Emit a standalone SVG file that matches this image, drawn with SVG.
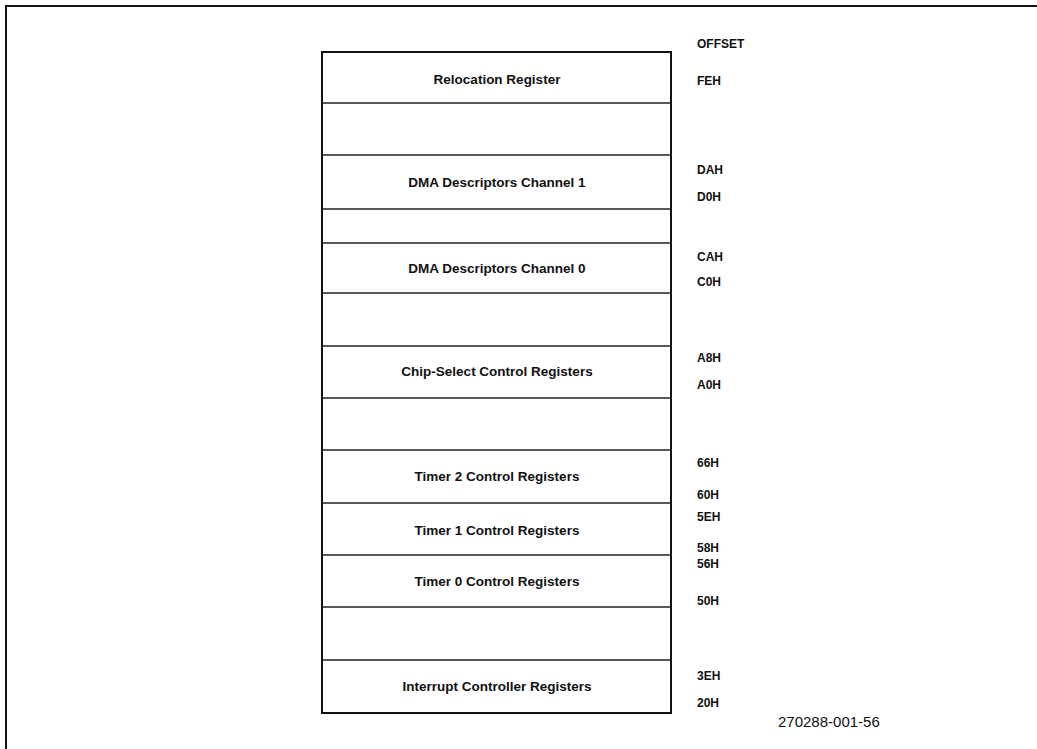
<svg xmlns="http://www.w3.org/2000/svg" width="1037" height="749" viewBox="0 0 1037 749">
<style>
.frame{fill:none;stroke:#111;stroke-width:2}
.box{fill:none;stroke:#111;stroke-width:2}
.div{stroke:#222;stroke-width:1.6}
.lbl{font-family:"Liberation Sans",Arial,sans-serif;font-weight:bold;font-size:13.5px;fill:#111;text-anchor:middle}
.off{font-family:"Liberation Sans",Arial,sans-serif;font-weight:bold;font-size:12px;fill:#111}
.fig{font-family:"Liberation Sans",Arial,sans-serif;font-size:15px;fill:#111}
</style>
<rect width="1037" height="749" fill="#fff"/>
<path class="frame" d="M6,749 V6 H1037"/>
<g id="map">
<rect class="box" x="322" y="52" width="349" height="661"/>
<g id="connectors">
<line class="div" x1="322" y1="103" x2="671" y2="103"/>
<line class="div" x1="322" y1="155" x2="671" y2="155"/>
<line class="div" x1="322" y1="209" x2="671" y2="209"/>
<line class="div" x1="322" y1="243" x2="671" y2="243"/>
<line class="div" x1="322" y1="293" x2="671" y2="293"/>
<line class="div" x1="322" y1="346" x2="671" y2="346"/>
<line class="div" x1="322" y1="398" x2="671" y2="398"/>
<line class="div" x1="322" y1="450" x2="671" y2="450"/>
<line class="div" x1="322" y1="503" x2="671" y2="503"/>
<line class="div" x1="322" y1="555" x2="671" y2="555"/>
<line class="div" x1="322" y1="607" x2="671" y2="607"/>
<line class="div" x1="322" y1="660" x2="671" y2="660"/>
</g>
</g>
<text class="off" x="697" y="48">OFFSET</text>
<g id="reloc"><text class="lbl" x="497" y="84">Relocation Register</text><text class="off" x="697" y="85">FEH</text></g>
<g id="dma1"><text class="lbl" x="497" y="187">DMA Descriptors Channel 1</text><text class="off" x="697" y="174">DAH</text><text class="off" x="697" y="201">D0H</text></g>
<g id="dma0"><text class="lbl" x="497" y="273">DMA Descriptors Channel 0</text><text class="off" x="697" y="261">CAH</text><text class="off" x="697" y="286">C0H</text></g>
<g id="cs"><text class="lbl" x="497" y="376">Chip-Select Control Registers</text><text class="off" x="697" y="362">A8H</text><text class="off" x="697" y="389">A0H</text></g>
<g id="t2"><text class="lbl" x="497" y="481">Timer 2 Control Registers</text><text class="off" x="697" y="467">66H</text><text class="off" x="697" y="499">60H</text></g>
<g id="t1"><text class="lbl" x="497" y="535">Timer 1 Control Registers</text><text class="off" x="697" y="521">5EH</text><text class="off" x="697" y="552">58H</text></g>
<g id="t0"><text class="lbl" x="497" y="586">Timer 0 Control Registers</text><text class="off" x="697" y="568">56H</text><text class="off" x="697" y="605">50H</text></g>
<g id="intc"><text class="lbl" x="497" y="691">Interrupt Controller Registers</text><text class="off" x="697" y="680">3EH</text><text class="off" x="697" y="707">20H</text></g>
<text class="fig" x="778" y="727">270288-001-56</text>
</svg>
